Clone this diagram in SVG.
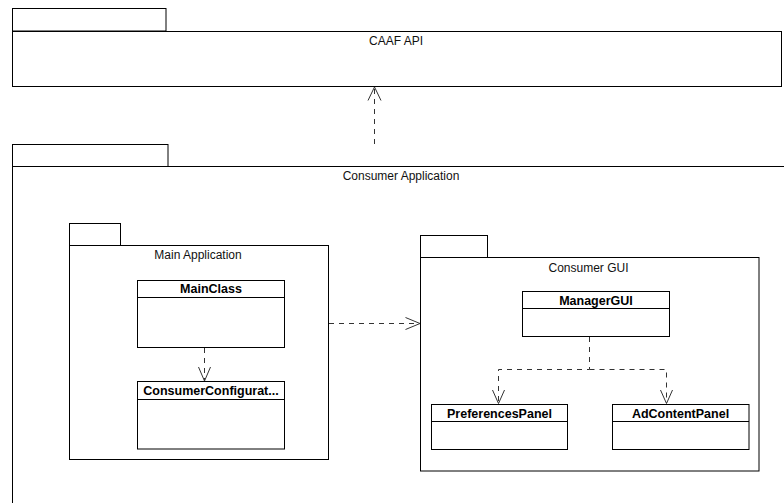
<svg xmlns="http://www.w3.org/2000/svg" width="784" height="503" viewBox="0 0 784 503">
  <style>
    .box { fill: #ffffff; stroke: #000000; stroke-width: 1; }
    .sep { stroke: #000000; stroke-width: 1; }
    .dep { fill: none; stroke: #333333; stroke-width: 1; stroke-dasharray: 5 5; }
    .head { fill: none; stroke: #333333; stroke-width: 1; }
    .pkg { font-family: "Liberation Sans", Arial, sans-serif; font-size: 12px; fill: #111111; text-anchor: middle; }
    .cls { font-family: "Liberation Sans", Arial, sans-serif; font-size: 12.5px; font-weight: bold; fill: #000000; text-anchor: middle; }
  </style>
  <rect x="0" y="0" width="784" height="503" fill="#ffffff"/>

  <!-- package: CAAF API -->
  <g id="pkg-caaf-api">
    <rect class="box" x="12.5" y="8.5" width="153.5" height="22.5"/>
    <rect class="box" x="12.5" y="31.5" width="769" height="55"/>
    <text class="pkg" x="396" y="44.5">CAAF API</text>
  </g>

  <!-- package: Consumer Application (extends past the lower and right edges) -->
  <g id="pkg-consumer-application">
    <rect class="box" x="12.5" y="144.5" width="155.5" height="22"/>
    <rect class="box" x="12.5" y="166.5" width="800" height="400"/>
    <text class="pkg" x="401" y="180">Consumer Application</text>
  </g>

  <!-- package: Main Application -->
  <g id="pkg-main-application">
    <rect class="box" x="69.5" y="223.5" width="51" height="22"/>
    <rect class="box" x="69.5" y="245.5" width="259" height="214"/>
    <text class="pkg" x="198" y="259">Main Application</text>
  </g>

  <!-- package: Consumer GUI -->
  <g id="pkg-consumer-gui">
    <rect class="box" x="420.5" y="235.5" width="67" height="22"/>
    <rect class="box" x="420.5" y="257.5" width="338.5" height="213.5"/>
    <text class="pkg" x="588.5" y="272">Consumer GUI</text>
  </g>

  <!-- classes -->
  <g id="cls-mainclass">
    <rect class="box" x="137.5" y="280.5" width="147" height="67"/>
    <line class="sep" x1="137.5" y1="297.5" x2="284.5" y2="297.5"/>
    <text class="cls" x="211" y="293">MainClass</text>
  </g>

  <g id="cls-consumer-configuration">
    <rect class="box" x="137.5" y="381.5" width="147" height="67.5"/>
    <line class="sep" x1="137.5" y1="399.5" x2="284.5" y2="399.5"/>
    <text class="cls" x="211" y="395">ConsumerConfigurat...</text>
  </g>

  <g id="cls-managergui">
    <rect class="box" x="522.5" y="291.5" width="147" height="45"/>
    <line class="sep" x1="522.5" y1="308.5" x2="669.5" y2="308.5"/>
    <text class="cls" x="596" y="305">ManagerGUI</text>
  </g>

  <g id="cls-preferences-panel">
    <rect class="box" x="431.5" y="404.5" width="136" height="45"/>
    <line class="sep" x1="431.5" y1="421.5" x2="567.5" y2="421.5"/>
    <text class="cls" x="499.5" y="418">PreferencesPanel</text>
  </g>

  <g id="cls-adcontent-panel">
    <rect class="box" x="612.5" y="404.5" width="136.5" height="45"/>
    <line class="sep" x1="612.5" y1="421.5" x2="749" y2="421.5"/>
    <text class="cls" x="680.5" y="418">AdContentPanel</text>
  </g>

  <!-- dependencies: dashed lines with open arrowheads -->
  <g id="connectors">
    <!-- Consumer Application -> CAAF API -->
    <line class="dep" x1="374.5" y1="144" x2="374.5" y2="88"/>
    <polyline class="head" points="368,100.5 374.5,87 381,100.5"/>

    <!-- Main Application -> Consumer GUI -->
    <line class="dep" x1="329" y1="323.5" x2="419" y2="323.5"/>
    <polyline class="head" points="405.5,317.5 420,323.5 405.5,329.5"/>

    <!-- MainClass -> ConsumerConfiguration -->
    <line class="dep" x1="204.5" y1="348" x2="204.5" y2="380"/>
    <polyline class="head" points="198.5,367 204.5,381 210.5,367"/>

    <!-- ManagerGUI -> PreferencesPanel / AdContentPanel -->
    <polyline class="dep" points="589.5,337 589.5,369.5 498.5,369.5 498.5,403"/>
    <polyline class="dep" points="589.5,369.5 666.5,369.5 666.5,403"/>
    <polyline class="head" points="492.5,390 498.5,403.5 504.5,390"/>
    <polyline class="head" points="660.5,390 666.5,403.5 672.5,390"/>
  </g>
</svg>
